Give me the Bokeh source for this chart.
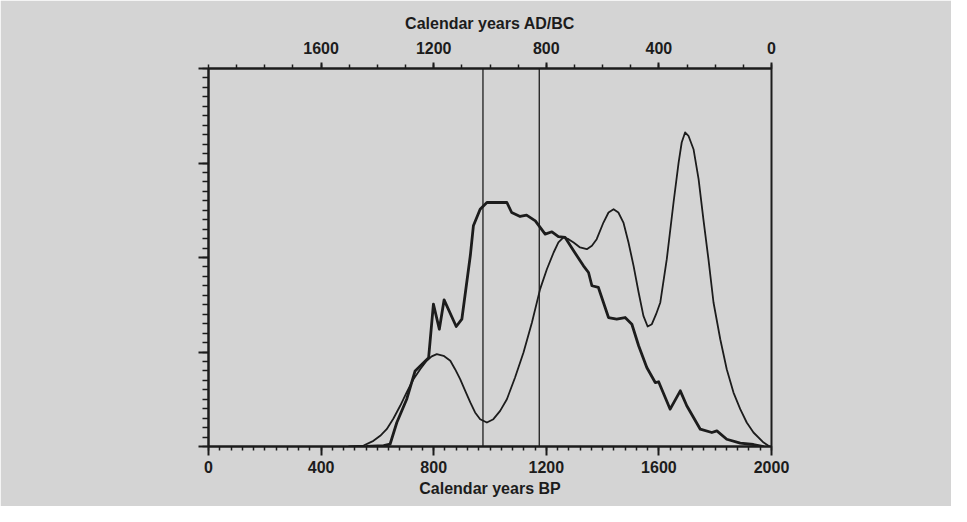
from bokeh.plotting import figure
from bokeh.models import Range1d, LinearAxis, FixedTicker, Span
from bokeh.embed import file_html
from bokeh.resources import INLINE

# ---- data ----
bp_ticks = [0, 400, 800, 1200, 1600, 2000]
ad_ticks = [1600, 1200, 800, 400, 0]
ref_lines_bp = [975, 1175]

thick_bp = [561, 622, 645, 669, 704, 734, 782, 799, 820, 837, 880, 900, 930, 941, 965, 989,
            1060, 1077, 1107, 1130, 1161, 1196, 1220, 1243, 1267, 1297, 1332, 1350, 1362, 1385,
            1421, 1450, 1480, 1504, 1528, 1557, 1587, 1599, 1640, 1676, 1699, 1747, 1788, 1806,
            1841, 1889, 1936, 1972]
thick_val = [0.0, 0.01, 0.024, 0.254, 0.50, 0.80, 0.94, 1.506, 1.241, 1.552, 1.27, 1.347, 2.018,
             2.335, 2.511, 2.582, 2.582, 2.476, 2.434, 2.448, 2.388, 2.247, 2.272, 2.222, 2.212,
             2.071, 1.912, 1.841, 1.701, 1.683, 1.365, 1.347, 1.365, 1.294, 1.066, 0.836, 0.677,
             0.685, 0.395, 0.589, 0.431, 0.183, 0.148, 0.166, 0.077, 0.035, 0.021, 0.0]

thin_bp = [497, 551, 586, 610, 633, 657, 681, 704, 728, 752, 775, 793, 811, 835, 859, 876, 894,
           912, 930, 947, 965, 989, 1012, 1036, 1060, 1089, 1119, 1149, 1178, 1202, 1226, 1243,
           1261, 1279, 1297, 1320, 1344, 1362, 1379, 1403, 1421, 1439, 1456, 1474, 1492, 1510,
           1528, 1545, 1560, 1575, 1590, 1605, 1628, 1652, 1670, 1681, 1693, 1705, 1723, 1741,
           1758, 1776, 1794, 1818, 1841, 1865, 1889, 1912, 1936, 1972, 1993]
thin_val = [0.0, 0.01, 0.06, 0.113, 0.183, 0.296, 0.431, 0.572, 0.712, 0.818, 0.907, 0.953, 0.977,
            0.960, 0.907, 0.818, 0.712, 0.589, 0.466, 0.360, 0.289, 0.254, 0.289, 0.377, 0.50,
            0.730, 0.995, 1.312, 1.665, 1.876, 2.053, 2.159, 2.212, 2.194, 2.159, 2.106, 2.088,
            2.124, 2.194, 2.370, 2.476, 2.511, 2.476, 2.370, 2.159, 1.912, 1.630, 1.383, 1.270,
            1.294, 1.400, 1.524, 1.982, 2.582, 3.005, 3.217, 3.323, 3.288, 3.146, 2.829, 2.405,
            1.982, 1.524, 1.135, 0.818, 0.571, 0.395, 0.254, 0.148, 0.042, 0.0]

BG = "#d4d4d4"
INK = "#1c1c1c"
FONT = "Liberation Sans"

p = figure(width=951, height=506, output_backend="svg", toolbar_location=None,
           x_range=Range1d(0, 2000), y_range=Range1d(0, 4),
           x_axis_location=None, y_axis_location=None,
           min_border_left=208, min_border_right=180, min_border_top=68, min_border_bottom=60)
p.background_fill_color = BG
p.border_fill_color = BG
p.outline_line_color = INK
p.outline_line_width = 2
p.xgrid.visible = False
p.ygrid.visible = False

p.extra_x_ranges = {"ad": Range1d(start=2000, end=0)}

def style(ax):
    ax.axis_line_color = INK
    ax.axis_line_width = 2
    ax.major_tick_line_color = INK
    ax.minor_tick_line_color = INK
    ax.major_tick_line_width = 2
    ax.minor_tick_line_width = 1.5
    ax.major_tick_in = 0
    ax.minor_tick_in = 0
    ax.major_label_text_font = FONT
    ax.major_label_text_font_style = "bold"
    ax.major_label_text_font_size = "16px"
    ax.major_label_text_color = INK
    ax.axis_label_text_font = FONT
    ax.axis_label_text_font_style = "bold"
    ax.axis_label_text_font_size = "16px"
    ax.axis_label_text_color = INK

bottom = LinearAxis(ticker=FixedTicker(ticks=bp_ticks, minor_ticks=list(range(0, 2001, 40))),
                    axis_label="Calendar years BP")
style(bottom)
bottom.major_tick_out = 9
bottom.minor_tick_out = 4
bottom.major_label_standoff = 5
bottom.axis_label_standoff = 4
p.add_layout(bottom, "below")

top = LinearAxis(x_range_name="ad",
                 ticker=FixedTicker(ticks=ad_ticks, minor_ticks=list(range(0, 2001, 100))),
                 axis_label="Calendar years AD/BC")
style(top)
top.major_tick_out = 6
top.minor_tick_out = 4
top.major_label_standoff = 9
top.axis_label_standoff = 7
p.add_layout(top, "above")

left = LinearAxis(ticker=FixedTicker(ticks=[0, 1, 2, 3, 4],
                                     minor_ticks=[i / 10 for i in range(0, 41)]))
style(left)
left.major_tick_out = 10
left.minor_tick_out = 6
left.major_label_overrides = {0: "", 1: "", 2: "", 3: "", 4: ""}
p.add_layout(left, "left")

for loc in ref_lines_bp:
    p.add_layout(Span(location=loc, dimension="height", line_color=INK, line_width=1.3))

p.line(thin_bp, thin_val, line_color=INK, line_width=1.8, line_join="round")
p.line(thick_bp, thick_val, line_color=INK, line_width=2.8, line_join="round")

open("out.html", "w").write(file_html(p, INLINE))
